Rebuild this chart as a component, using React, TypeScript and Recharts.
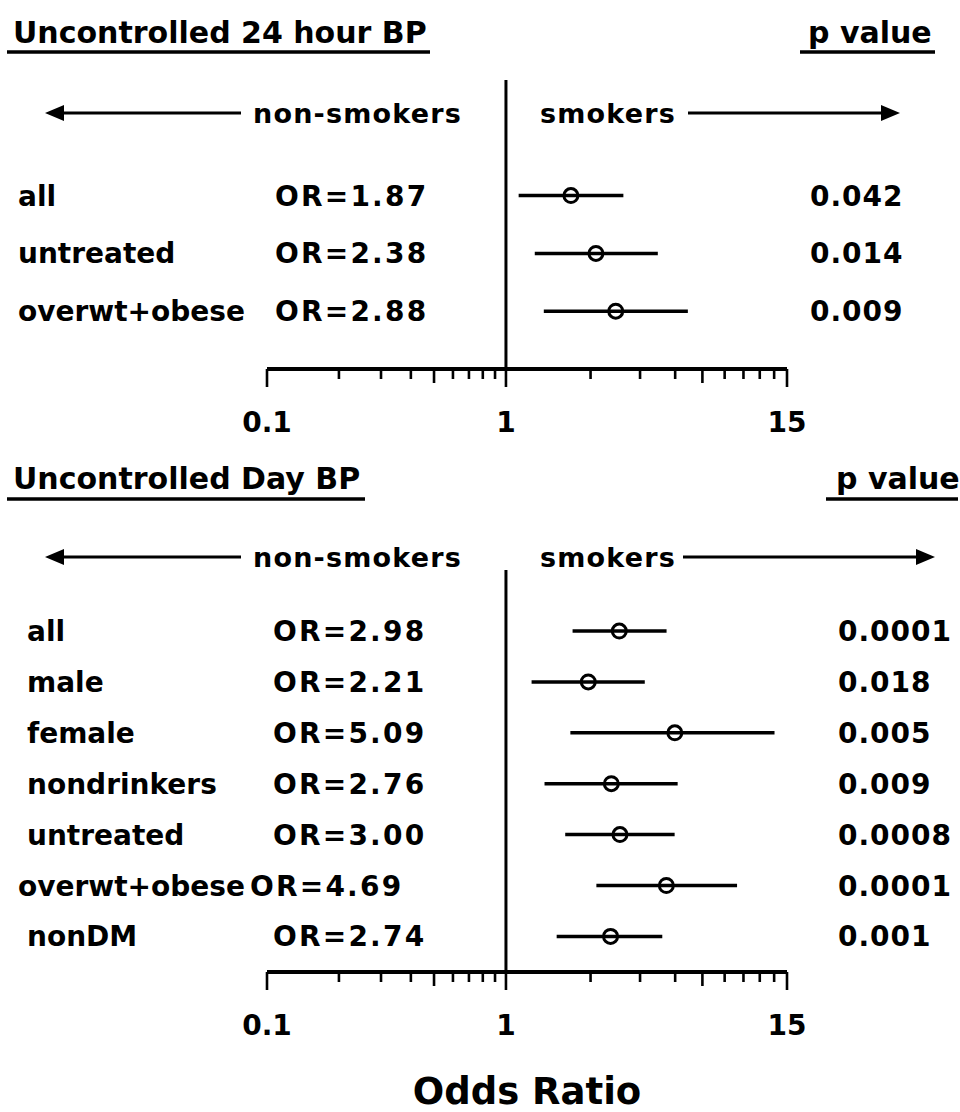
import React from 'react';
import { ScatterChart, Scatter, XAxis, YAxis, ErrorBar, ReferenceLine } from 'recharts';

// ---- Uncontrolled 24 hour BP ----
const h24Groups = ['all', 'untreated', 'overwt+obese'];
const h24OR = [1.87, 2.38, 2.88];
const h24Low = [1.13, 1.32, 1.44];
const h24High = [3.1, 4.32, 5.77];
const h24P = ['0.042', '0.014', '0.009'];

// ---- Uncontrolled Day BP ----
const dayGroups = ['all', 'male', 'female', 'nondrinkers', 'untreated', 'overwt+obese', 'nonDM'];
const dayOR = [2.98, 2.21, 5.09, 2.76, 3.0, 4.69, 2.74];
const dayLow = [1.9, 1.28, 1.86, 1.45, 1.77, 2.39, 1.63];
const dayHigh = [4.7, 3.81, 13.3, 5.23, 5.08, 9.27, 4.51];
const dayP = ['0.0001', '0.018', '0.005', '0.009', '0.0008', '0.0001', '0.001'];

// ---- odds ratio axis ----
const axisDomain = [0.1, 15];
const labelledTicks = [0.1, 1, 15];
const labelledTickText = ['0.1', '1', '15'];
const leftMinorTicks = [0.2, 0.3, 0.4, 0.5, 0.6, 0.7, 0.8, 0.9];
const rightMinorSteps = [2, 3, 4, 5, 6, 7, 8, 9];
// the upper run of minor ticks splits 1..15 like a decade
const rightMinorTicks = rightMinorSteps.map((k) => Math.pow(15, Math.log10(k)));
const mediumTicks = [0.5, rightMinorTicks[3]];
const allTicks = [0.1, ...leftMinorTicks, 1, ...rightMinorTicks, 15];

const FONT = '"DejaVu Sans", Verdana, sans-serif';
const INK = '#000';

type Row = { row: number; name: string; or: number; ci: [number, number]; p: string };

const buildRows = (names: string[], ors: number[], lows: number[], highs: number[], ps: string[]): Row[] =>
  names.map((name, i) => ({
    row: i,
    name,
    or: ors[i],
    ci: [ors[i] - lows[i], highs[i] - ors[i]],
    p: ps[i],
  }));

const h24Rows = buildRows(h24Groups, h24OR, h24Low, h24High, h24P);
const dayRows = buildRows(dayGroups, dayOR, dayLow, dayHigh, dayP);

const near = (a: number, b: number) => Math.abs(a - b) < 1e-6;

function OddsTick(props: any) {
  const { x, y, payload } = props;
  const v = payload.value as number;
  const li = labelledTicks.findIndex((t) => near(t, v));
  const isMedium = mediumTicks.some((t) => near(t, v));
  const len = li >= 0 ? 18 : isMedium ? 14 : 10;
  return (
    <g>
      <line x1={x} x2={x} y1={y} y2={y + len} stroke={INK} strokeWidth={2.6} />
      {li >= 0 && (
        <text x={x} y={y + 63} textAnchor="middle" fontFamily={FONT} fontWeight="bold" fontSize={28} fill={INK}>
          {labelledTickText[li]}
        </text>
      )}
    </g>
  );
}

type Columns = { name: number; or: number; p: number; wide?: { name: number; or: number } };

function renderRowLabels(rows: Row[], cols: Columns) {
  return (props: any) => {
    const { y, payload } = props;
    const r = rows.find((d) => d.row === payload.value);
    if (!r) return <g />;
    const isWide = !!cols.wide && r.name.length > 11;
    const nameX = isWide ? cols.wide!.name : cols.name;
    const orX = isWide ? cols.wide!.or : cols.or;
    const common = { y, dy: '0.36em', fontFamily: FONT, fontWeight: 'bold', fontSize: 28, fill: INK } as any;
    return (
      <g>
        <text x={nameX} {...common}>{r.name}</text>
        <text x={orX} letterSpacing={2.2} {...common}>{`OR=${r.or.toFixed(2)}`}</text>
        <text x={cols.p} letterSpacing={1} {...common}>{r.p}</text>
      </g>
    );
  };
}

const Ring = (props: any) => (
  <circle cx={props.cx} cy={props.cy} r={7} fill="none" stroke={INK} strokeWidth={3} />
);

function ForestPanel(props: {
  rows: Row[];
  top: number;
  height: number;
  plotTop: number;
  axisHeight: number;
  bottom: number;
  yDomain: [number, number];
  cols: Columns;
  showTitle?: boolean;
}) {
  const { rows, top, height, plotTop, axisHeight, bottom, yDomain, cols, showTitle } = props;
  return (
    <div style={{ position: 'absolute', left: 0, top, width: 960, height }}>
      <ScatterChart width={960} height={height} margin={{ top: plotTop, right: 173, bottom, left: 257 }}>
        <XAxis
          type="number"
          dataKey="or"
          scale="log"
          domain={axisDomain}
          allowDataOverflow
          ticks={allTicks}
          interval={0}
          tickSize={0}
          tickMargin={0}
          tickLine={false}
          height={axisHeight}
          axisLine={{ stroke: INK, strokeWidth: 4 }}
          tick={(p: any) => <OddsTick {...p} />}
          label={
            showTitle
              ? (p: any) => {
                  const vb = p.viewBox;
                  return (
                    <text
                      x={vb.x + vb.width / 2}
                      y={vb.y + 132}
                      textAnchor="middle"
                      fontFamily={FONT}
                      fontWeight="bold"
                      fontSize={37}
                      fill={INK}
                    >
                      Odds Ratio
                    </text>
                  );
                }
              : undefined
          }
        />
        <YAxis
          type="number"
          dataKey="row"
          domain={yDomain}
          reversed
          width={10}
          ticks={rows.map((r) => r.row)}
          interval={0}
          axisLine={false}
          tickLine={false}
          tick={renderRowLabels(rows, cols)}
        />
        <ReferenceLine x={1} stroke={INK} strokeWidth={3} />
        <Scatter data={rows} isAnimationActive={false} shape={<Ring />}>
          <ErrorBar dataKey="ci" direction="x" width={0} stroke={INK} strokeWidth={3.5} />
        </Scatter>
      </ScatterChart>
    </div>
  );
}

function Arrow({ from, to, y }: { from: number; to: number; y: number }) {
  const dir = Math.sign(to - from);
  const head = 19;
  const base = to - dir * head;
  return (
    <g>
      <line x1={from} x2={base} y1={y} y2={y} stroke={INK} strokeWidth={3} />
      <polygon points={`${to},${y} ${base},${y - 8} ${base},${y + 8}`} fill={INK} />
    </g>
  );
}

function Header(props: {
  title: string;
  baseline: number;
  underline: number;
  titleEnd: number;
  pX: number;
  pLine: [number, number];
  arrowY: number;
  rightTip: number;
  rightStart: number;
}) {
  const { title, baseline, underline, titleEnd, pX, pLine, arrowY, rightTip, rightStart } = props;
  const txt = { fontFamily: FONT, fontWeight: 'bold', fill: INK } as any;
  return (
    <g>
      <text x={13} y={baseline} fontSize={30} {...txt}>{title}</text>
      <line x1={7} x2={titleEnd} y1={underline} y2={underline} stroke={INK} strokeWidth={3.5} />
      <text x={pX} y={baseline} fontSize={30} {...txt}>p value</text>
      <line x1={pLine[0]} x2={pLine[1]} y1={underline} y2={underline} stroke={INK} strokeWidth={3.5} />
      <Arrow from={241} to={45} y={arrowY} />
      <text x={253} y={arrowY} dy="0.36em" fontSize={27} letterSpacing={1.2} {...txt}>non-smokers</text>
      <text x={540} y={arrowY} dy="0.36em" fontSize={27} letterSpacing={1.2} {...txt}>smokers</text>
      <Arrow from={rightStart} to={rightTip} y={arrowY} />
    </g>
  );
}

export default function App() {
  return (
    <div style={{ position: 'absolute', left: 0, top: 0, width: 960, height: 1112, background: '#fff' }}>
      <ForestPanel
        rows={h24Rows}
        top={0}
        height={460}
        plotTop={80}
        axisHeight={80}
        bottom={11}
        yDomain={[-2, 3]}
        cols={{ name: 18, or: 275, p: 810 }}
      />
      <ForestPanel
        rows={dayRows}
        top={460}
        height={652}
        plotTop={110}
        axisHeight={140}
        bottom={0}
        yDomain={[-1.2, 6.7]}
        cols={{ name: 27, or: 273, p: 838, wide: { name: 18, or: 250 } }}
        showTitle
      />
      <svg width={960} height={1112} style={{ position: 'absolute', left: 0, top: 0, pointerEvents: 'none' }}>
        <Header
          title="Uncontrolled 24 hour BP"
          baseline={43}
          underline={52}
          titleEnd={430}
          pX={808}
          pLine={[800, 935]}
          arrowY={113}
          rightStart={688}
          rightTip={900}
        />
        <Header
          title="Uncontrolled Day BP"
          baseline={489}
          underline={499}
          titleEnd={365}
          pX={836}
          pLine={[826, 958]}
          arrowY={557}
          rightStart={683}
          rightTip={935}
        />
      </svg>
    </div>
  );
}
